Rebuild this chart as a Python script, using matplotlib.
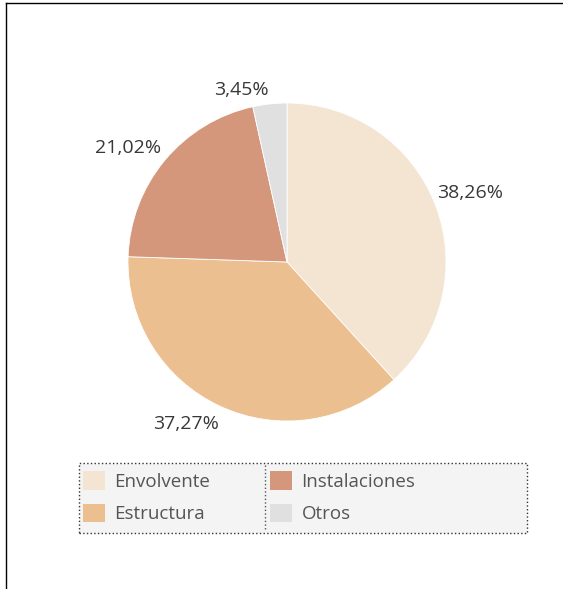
import matplotlib.pyplot as plt
from matplotlib.patches import Patch, Rectangle
from matplotlib.lines import Line2D

# data
categories = ["Envolvente", "Estructura", "Instalaciones", "Otros"]
shares = [38.26, 37.27, 21.02, 3.45]
colors = ["#f3e5d2", "#ebbf8f", "#d4977b", "#e0e0e0"]

W, H = 563, 589
fig = plt.figure(figsize=(W / 100, H / 100), dpi=100)
plt.rcParams["font.family"] = ["Open Sans", "DejaVu Sans"]

# pie: centre (287, 262) px, radius 159 px
cx, cy, r = 287, 262, 159
ax = fig.add_axes([(cx - r) / W, (H - cy - r) / H, 2 * r / W, 2 * r / H])
labels = [f"{v:.2f}%".replace(".", ",") for v in shares]
wedges, texts = ax.pie(shares, colors=colors, startangle=90, counterclock=False,
                       labels=labels, labeldistance=1.22,
                       wedgeprops=dict(edgecolor="white", linewidth=0.6),
                       textprops=dict(fontsize=14, color="#383838"))
# nudge labels (pixels, x right / y up) the way the original tool placed them
nudges = [(2, -1), (-20, 14), (-10, -10), (-25, -21)]
for t, (dx, dy) in zip(texts, nudges):
    x, y = t.get_position()
    t.set_position((x + dx / r, y + dy / r))
    t.set_ha("center")
    t.set_va("center")
ax.set_xlim(-1, 1)
ax.set_ylim(-1, 1)
ax.set_aspect("equal")
ax.axis("off")

# legend box (drawn by hand so it matches the reference size)
fig.add_artist(Rectangle((79 / W, 1 - 533 / H), 448 / W, 70 / H,
                         transform=fig.transFigure, facecolor="#f4f4f4",
                         edgecolor="#333333", linestyle=":", linewidth=1.0))
fig.add_artist(Line2D([265 / W, 265 / W], [1 - 465 / H, 1 - 531 / H],
                      color="#555555", linestyle=":", linewidth=1.0))

handles = [Patch(facecolor=c, edgecolor="none") for c in colors]
fs = 13.5
leg = fig.legend(handles, categories, loc="upper left",
                 bbox_to_anchor=(83 / W, 1 - 471 / H),
                 ncol=2, fontsize=fs, frameon=False,
                 handlelength=1.17, handleheight=1.17,
                 labelspacing=0.68, handletextpad=0.5, borderaxespad=0,
                 borderpad=0, columnspacing=3.2, labelcolor="#555555")

# outer border lines (left and top)
fig.add_artist(Line2D([6 / W, 6 / W], [0, 1 - 3 / H], color="black", linewidth=1.0))
fig.add_artist(Line2D([6 / W, 1], [1 - 3 / H, 1 - 3 / H], color="black", linewidth=1.0))

fig.savefig("out.png", dpi=100)
